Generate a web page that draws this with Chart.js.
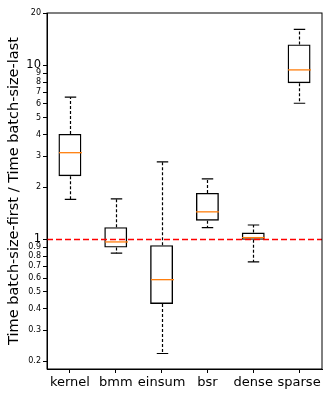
<!DOCTYPE html>
<html>
<head>
<meta charset="utf-8">
<script src="https://cdn.jsdelivr.net/npm/chart.js@4"></script>
<style>
  html, body { margin: 0; padding: 0; background: #fff; }
  #wrap { width: 332px; height: 399px; }
</style>
</head>
<body>
<div id="wrap"><canvas id="myChart" width="332" height="399"></canvas></div>
<script>
var categories = ['kernel', 'bmm', 'einsum', 'bsr', 'dense', 'sparse'];
var whiskerLow  = [1.70, 0.833, 0.221, 1.17, 0.742, 6.06];
var q1          = [2.31, 0.897, 0.426, 1.28, 0.995, 7.9];
var median      = [3.15, 0.967, 0.587, 1.44, 1.024, 9.42];
var q3          = [4.04, 1.175, 0.926, 1.85, 1.094, 13.2];
var whiskerHigh = [6.57, 1.71, 2.79, 2.23, 1.21, 16.1];
var yTicks = [0.2, 0.3, 0.4, 0.5, 0.6, 0.7, 0.8, 0.9, 1, 2, 3, 4, 5, 6, 7, 8, 9, 10, 20];
var refLine = 1;

var font = 'DejaVu Sans';

// whiskers, caps, medians, reference line, frame
var boxExtras = {
    id: 'boxExtras',
    afterDatasetsDraw: function(chart) {
        var ctx = chart.ctx;
        var x = chart.scales.x, y = chart.scales.y;
        var area = chart.chartArea;
        var band = x.getPixelForValue(1) - x.getPixelForValue(0);
        var half = band * 0.25;
        var cap = band * 0.125;
        ctx.save();
        for (var i = 0; i < categories.length; i++) {
            var cx = Math.round(x.getPixelForValue(i)) + 0.5;
            var yLo = y.getPixelForValue(whiskerLow[i]);
            var yQ1 = y.getPixelForValue(q1[i]);
            var yQ3 = y.getPixelForValue(q3[i]);
            var yHi = y.getPixelForValue(whiskerHigh[i]);
            var yMed = y.getPixelForValue(median[i]);

            ctx.strokeStyle = '#000';
            ctx.lineWidth = 1.2;
            ctx.setLineDash([3, 2]);
            ctx.beginPath();
            ctx.moveTo(cx, yQ1); ctx.lineTo(cx, yLo);
            ctx.moveTo(cx, yQ3); ctx.lineTo(cx, yHi);
            ctx.stroke();

            ctx.setLineDash([]);
            ctx.beginPath();
            ctx.moveTo(cx - cap, yLo); ctx.lineTo(cx + cap, yLo);
            ctx.moveTo(cx - cap, yHi); ctx.lineTo(cx + cap, yHi);
            ctx.stroke();

            ctx.strokeStyle = '#ff7f0e';
            ctx.lineWidth = 1.3;
            ctx.beginPath();
            ctx.moveTo(cx - half, yMed); ctx.lineTo(cx + half, yMed);
            ctx.stroke();
        }

        var yr = y.getPixelForValue(refLine);
        ctx.strokeStyle = '#ff0000';
        ctx.lineWidth = 1.5;
        ctx.setLineDash([6, 3]);
        ctx.beginPath();
        ctx.moveTo(area.left, yr); ctx.lineTo(area.right, yr);
        ctx.stroke();

        ctx.setLineDash([]);
        ctx.strokeStyle = '#000';
        ctx.lineWidth = 1;
        ctx.strokeRect(area.left, area.top, area.right - area.left, area.bottom - area.top);
        ctx.restore();
    }
};

var ctx = document.getElementById('myChart').getContext('2d');
var myChart = new Chart(ctx, {
    type: 'bar',
    data: {
        labels: categories,
        datasets: [
            {
                data: q1.map(function(v, i) { return [v, q3[i]]; }),
                backgroundColor: 'rgba(0,0,0,0)',
                borderColor: '#000',
                borderWidth: 1.4,
                borderSkipped: false,
                barPercentage: 0.5,
                categoryPercentage: 1
            }
        ]
    },
    options: {
        responsive: false,
        animation: false,
        layout: { padding: { top: 13, right: 10, left: 0, bottom: 0 } },
        plugins: {
            legend: { display: false },
            tooltip: { enabled: false }
        },
        scales: {
            x: {
                offset: true,
                grid: { display: true, offset: false, drawOnChartArea: false, tickLength: 4, color: '#000' },
                border: { display: true, color: '#000' },
                ticks: { color: '#000', font: { family: font, size: 13 }, padding: 2, maxRotation: 0, autoSkip: false },
                afterFit: function(scale) { scale.height = 30; }
            },
            y: {
                type: 'logarithmic',
                min: 0.18,
                max: 20,
                afterBuildTicks: function(scale) {
                    scale.ticks = yTicks.map(function(v) { return { value: v }; });
                },
                afterFit: function(scale) { scale.width = 47; },
                grid: { display: true, drawOnChartArea: false, tickLength: 4, color: '#000' },
                border: { display: true, color: '#000' },
                ticks: {
                    color: '#000',
                    padding: 2,
                    autoSkip: false,
                    font: function(c) {
                        var v = c.tick && c.tick.value;
                        return { family: font, size: (v === 1 || v === 10) ? 11.5 : 8 };
                    },
                    callback: function(v) { return String(v); }
                },
                title: {
                    display: true,
                    text: 'Time batch-size-first / Time batch-size-last',
                    color: '#000',
                    font: { family: font, size: 14.5 },
                    padding: { top: 6, bottom: 0 }
                }
            }
        }
    },
    plugins: [boxExtras]
});
</script>
</body>
</html>
